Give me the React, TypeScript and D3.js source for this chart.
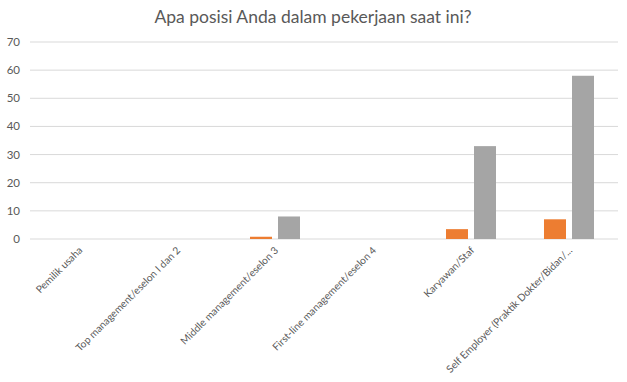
import React from "react";
import * as d3 from "d3";

const categories = [
  "Pemilik usaha",
  "Top management/eselon I dan 2",
  "Middle management/eselon 3",
  "First-line management/eselon 4",
  "Karyawan/Staf",
  "Self Employer (Praktik Dokter/Bidan/...",
];
const seriesNames = ["Series2", "Series3"];
const orangeValues = [0, 0, 0.8, 0, 3.5, 7];
const grayValues = [0, 0, 8, 0, 33, 58];
const yTicks = [0, 10, 20, 30, 40, 50, 60, 70];
const colors = ["#ED7D31", "#A5A5A5"];
const title = "Apa posisi Anda dalam pekerjaan saat ini?";

const W = 627;
const H = 382;
const FONT = "Lato, 'Open Sans', sans-serif";

export default function App() {
  const x = d3.scaleBand<string>().domain(categories).range([30, 618]).padding(0);
  const xs = d3
    .scaleBand<string>()
    .domain(seriesNames)
    .range([0, x.bandwidth()])
    .paddingInner(6 / 28)
    .paddingOuter(0.857);
  const y = d3.scaleLinear().domain([0, 70]).range([239, 42]);
  const data = [orangeValues, grayValues];

  return (
    <div style={{ position: "absolute", left: 0, top: 0 }}>
      <svg width={W} height={H} style={{ display: "block", background: "#fff" }}>
        <text
          x={313}
          y={23}
          textAnchor="middle"
          fontFamily={FONT}
          fontSize={17.5}
          fill="#595959"
        >
          {title}
        </text>
        {yTicks.map((t) => (
          <g key={t}>
            <line x1={30} x2={618} y1={y(t)} y2={y(t)} stroke="#D9D9D9" strokeWidth={1} />
            <text
              x={20}
              y={y(t)}
              dy="0.35em"
              textAnchor="end"
              fontFamily={FONT}
              fontSize={11.5}
              fill="#595959"
            >
              {t}
            </text>
          </g>
        ))}
        {data.map((vals, si) =>
          vals.map((v, i) => {
            const bx = (x(categories[i]) ?? 0) + (xs(seriesNames[si]) ?? 0);
            return (
              <rect
                key={`${si}-${i}`}
                x={bx}
                y={y(v)}
                width={xs.bandwidth()}
                height={Math.max(0, y(0) - y(v))}
                fill={colors[si]}
              />
            );
          })
        )}
        {categories.map((c) => {
          const cx = (x(c) ?? 0) + x.bandwidth() / 2 + 4;
          const cy = 251;
          return (
            <text
              key={c}
              transform={`translate(${cx},${cy}) rotate(-45)`}
              textAnchor="end"
              fontFamily={FONT}
              fontSize={10.2}
              fill="#595959"
            >
              {c}
            </text>
          );
        })}
      </svg>
    </div>
  );
}
